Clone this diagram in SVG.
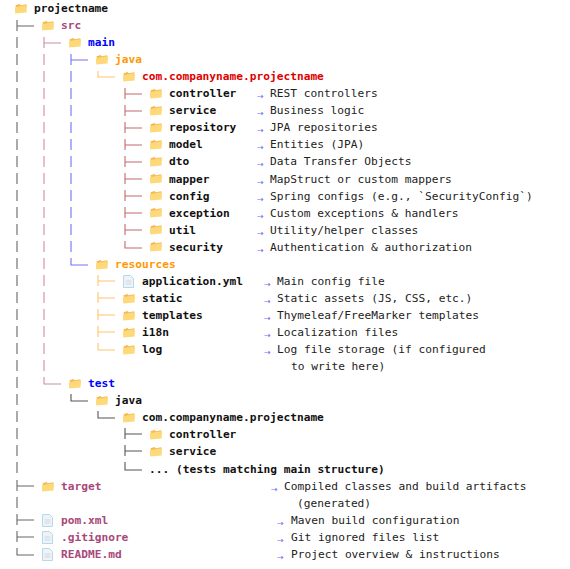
<svg xmlns="http://www.w3.org/2000/svg" width="570" height="569" viewBox="0 0 570 569">
<style>
text{font-family:"DejaVu Sans Mono","Liberation Mono",monospace;font-size:11.2px;white-space:pre;fill:#222}
.b{font-weight:700;fill:#111}
.pk{font-weight:700;fill:#a8487a}
.bl{font-weight:700;fill:#0000ff}
.or{font-weight:700;fill:#ff9800}
.rd{font-weight:700;fill:#e00000}
.ar{font-family:"DejaVu Sans",sans-serif;font-size:8px;fill:#6a6aff;transform:translateY(1.5px)}
.c{fill:none;stroke-width:1.1}
.g{stroke:#666}.p{stroke:#d08aa8}.u{stroke:#7272f5}.o{stroke:#ffc46e}.r{stroke:#c4696c}.d{stroke:#555}
</style>
<defs>
<g id="folder"><path d="M1.5 3.2l4-1.2 1.2 1.2 5.6-1 .4 4h-10.5z" fill="#f7b955"/><path d="M1.2 11.6l-.3-6.4 12-2.2-.3 7.4z" fill="#fdd97a"/></g>
<g id="doc"><path d="M1.5 0.5h7l3 3v9h-10z" fill="#eef3f7" stroke="#b5d8ee"/><path d="M3.5 5h6v5h-6z" fill="#e2e6ea"/></g>
</defs>
<g id="connectors">
<path class="c g" d="M17 20v11M17 26h17M17 37v11M17 54v11M17 71v11M17 88v11M17 105v11M17 122v11M17 139v11M17 156v11M17 173v11M17 190v11M17 207v11M17 224v11M17 241v11M17 258v11M17 275v11M17 292v11M17 309v11M17 326v11M17 343v11M17 360v11M17 377v11M17 394v11M17 411v11M17 428v11M17 445v11M17 462v11M17 480v11M17 486h17M17 497v11M17 514v11M17 520h17M17 531v11M17 537h17M17 548v7h17"/>
<path class="c p" d="M44 37v11M44 43h17M44 54v11M44 71v11M44 88v11M44 105v11M44 122v11M44 139v11M44 156v11M44 173v11M44 190v11M44 207v11M44 224v11M44 241v11M44 258v11M44 275v11M44 292v11M44 309v11M44 326v11M44 343v11M44 360v11M44 377v7h17"/>
<path class="c u" d="M71 54v11M71 60h17M71 71v11M71 88v11M71 105v11M71 122v11M71 139v11M71 156v11M71 173v11M71 190v11M71 207v11M71 224v11M71 241v11M71 258v7h17"/>
<path class="c o" d="M98 71v6h17M98 275v11M98 281h17M98 292v11M98 298h17M98 309v11M98 315h17M98 326v11M98 332h17M98 343v7h17"/>
<path class="c r" d="M125 88v11M125 94h17M125 105v11M125 111h17M125 122v11M125 128h17M125 139v11M125 145h17M125 156v11M125 162h17M125 173v11M125 179h17M125 190v11M125 196h17M125 207v11M125 213h17M125 224v11M125 230h17M125 241v7h17"/>
<path class="c d" d="M71 394v7h17M98 411v7h17M125 428v11M125 434h17M125 445v11M125 451h17M125 462v8h17"/>
</g>
<g id="n-projectname"><use href="#folder" x="14" y="2"/><text class="b" x="34" y="12">projectname</text></g>
<g id="n-src"><use href="#folder" x="41" y="19"/><text class="pk" x="61" y="29">src</text></g>
<g id="n-main"><use href="#folder" x="68" y="36"/><text class="bl" x="88" y="46">main</text></g>
<g id="n-java"><use href="#folder" x="95" y="53"/><text class="or" x="115" y="63">java</text></g>
<g id="n-com"><use href="#folder" x="122" y="70"/><text class="rd" x="142" y="80">com.companyname.projectname</text></g>
<g id="n-controller"><use href="#folder" x="149" y="87"/><text class="b" x="169" y="97">controller</text><text class="ar" x="257" y="97">→</text><text x="270" y="97">REST controllers</text></g>
<g id="n-service"><use href="#folder" x="149" y="104"/><text class="b" x="169" y="114">service</text><text class="ar" x="257" y="114">→</text><text x="270" y="114">Business logic</text></g>
<g id="n-repository"><use href="#folder" x="149" y="121"/><text class="b" x="169" y="131">repository</text><text class="ar" x="257" y="131">→</text><text x="270" y="131">JPA repositories</text></g>
<g id="n-model"><use href="#folder" x="149" y="138"/><text class="b" x="169" y="148">model</text><text class="ar" x="257" y="148">→</text><text x="270" y="148">Entities (JPA)</text></g>
<g id="n-dto"><use href="#folder" x="149" y="155"/><text class="b" x="169" y="165">dto</text><text class="ar" x="257" y="165">→</text><text x="270" y="165">Data Transfer Objects</text></g>
<g id="n-mapper"><use href="#folder" x="149" y="172"/><text class="b" x="169" y="183">mapper</text><text class="ar" x="257" y="183">→</text><text x="270" y="183">MapStruct or custom mappers</text></g>
<g id="n-config"><use href="#folder" x="149" y="189"/><text class="b" x="169" y="200">config</text><text class="ar" x="257" y="200">→</text><text x="270" y="200">Spring configs (e.g., `SecurityConfig`)</text></g>
<g id="n-exception"><use href="#folder" x="149" y="206"/><text class="b" x="169" y="217">exception</text><text class="ar" x="257" y="217">→</text><text x="270" y="217">Custom exceptions &amp; handlers</text></g>
<g id="n-util"><use href="#folder" x="149" y="223"/><text class="b" x="169" y="234">util</text><text class="ar" x="257" y="234">→</text><text x="270" y="234">Utility/helper classes</text></g>
<g id="n-security"><use href="#folder" x="149" y="240"/><text class="b" x="169" y="251">security</text><text class="ar" x="257" y="251">→</text><text x="270" y="251">Authentication &amp; authorization</text></g>
<g id="n-resources"><use href="#folder" x="95" y="258"/><text class="or" x="115" y="268">resources</text></g>
<g id="n-application"><use href="#doc" x="122" y="275"/><text class="b" x="142" y="285">application.yml</text><text class="ar" x="264" y="285">→</text><text x="277" y="285">Main config file</text></g>
<g id="n-static"><use href="#folder" x="122" y="292"/><text class="b" x="142" y="302">static</text><text class="ar" x="264" y="302">→</text><text x="277" y="302">Static assets (JS, CSS, etc.)</text></g>
<g id="n-templates"><use href="#folder" x="122" y="309"/><text class="b" x="142" y="319">templates</text><text class="ar" x="264" y="319">→</text><text x="277" y="319">Thymeleaf/FreeMarker templates</text></g>
<g id="n-i18n"><use href="#folder" x="122" y="326"/><text class="b" x="142" y="336">i18n</text><text class="ar" x="264" y="336">→</text><text x="277" y="336">Localization files</text></g>
<g id="n-log"><use href="#folder" x="122" y="343"/><text class="b" x="142" y="353">log</text><text class="ar" x="264" y="353">→</text><text x="277" y="353">Log file storage (if configured</text><text x="291" y="370">to write here)</text></g>
<g id="n-test"><use href="#folder" x="68" y="377"/><text class="bl" x="88" y="387">test</text></g>
<g id="n-test-java"><use href="#folder" x="95" y="394"/><text class="b" x="115" y="404">java</text></g>
<g id="n-test-com"><use href="#folder" x="122" y="411"/><text class="b" x="142" y="421">com.companyname.projectname</text></g>
<g id="n-test-controller"><use href="#folder" x="149" y="428"/><text class="b" x="169" y="438">controller</text></g>
<g id="n-test-service"><use href="#folder" x="149" y="445"/><text class="b" x="169" y="455">service</text></g>
<g id="n-test-more"><text class="b" x="149" y="473">... (tests matching main structure)</text></g>
<g id="n-target"><use href="#folder" x="41" y="480"/><text class="pk" x="61" y="490">target</text><text class="ar" x="271" y="490">→</text><text x="284" y="490">Compiled classes and build artifacts</text><text x="297" y="507">(generated)</text></g>
<g id="n-pom"><use href="#doc" x="41" y="514"/><text class="pk" x="61" y="524">pom.xml</text><text class="ar" x="277" y="524">→</text><text x="291" y="524">Maven build configuration</text></g>
<g id="n-gitignore"><use href="#doc" x="41" y="531"/><text class="pk" x="61" y="541">.gitignore</text><text class="ar" x="277" y="541">→</text><text x="291" y="541">Git ignored files list</text></g>
<g id="n-readme"><use href="#doc" x="41" y="548"/><text class="pk" x="61" y="558">README.md</text><text class="ar" x="277" y="558">→</text><text x="291" y="558">Project overview &amp; instructions</text></g>
</svg>
